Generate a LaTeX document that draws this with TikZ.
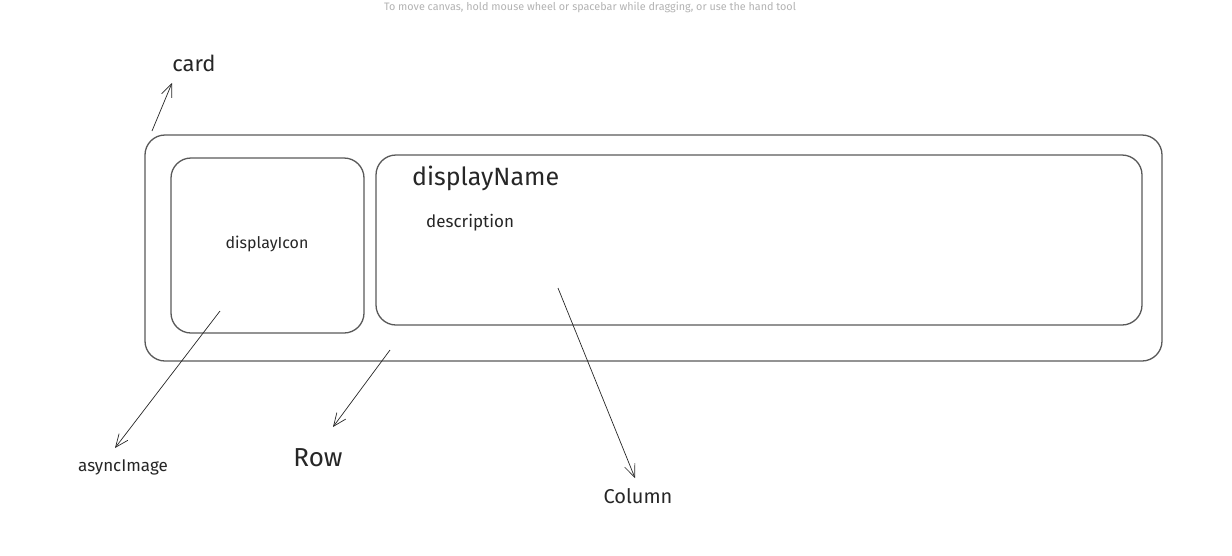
\documentclass[tikz,border=0pt]{standalone}
\usepackage{fontspec}
\setmainfont{Fira Sans}
\usetikzlibrary{arrows.meta}

\tikzset{
  box/.style={draw=black!65, line width=1.3pt, rounded corners=20pt},
  label/.style={inner sep=0pt, text=black!85},
  hint/.style={inner sep=0pt, text=black!30, font=\fontsize{10.8}{12}\selectfont},
  pointer/.style={-{Straight Barb[length=13pt,width=11pt]}, line width=0.7pt, black!85}
}

\begin{document}
\begin{tikzpicture}[x=1pt, y=-1pt]
  \useasboundingbox (0,0) rectangle (1232,555);

  % hint line at the top
  \node[hint] (hint) at (590,7) {To move canvas, hold mouse wheel or spacebar while dragging, or use the hand tool};

  % boxes
  \draw[box] (145,135) rectangle (1162,361);
  \draw[box] (171,158) rectangle (364,333);
  \draw[box] (376,155) rectangle (1142,325);

  % texts
  \node[label, font=\fontsize{16}{18}\selectfont] (icon) at (267,244) {displayIcon};
  \node[label, anchor=west, font=\fontsize{25}{28}\selectfont] (name) at (412,178) {displayName};
  \node[label, anchor=west, font=\fontsize{17}{20}\selectfont] (desc) at (426,223) {description};
  \node[label, font=\fontsize{22}{24}\selectfont] (card) at (194,63) {card};
  \node[label, font=\fontsize{17}{20}\selectfont] (async) at (123,467) {asyncImage};
  \node[label, font=\fontsize{26}{28}\selectfont] (row) at (318,458) {Row};
  \node[label, font=\fontsize{20}{22}\selectfont] (col) at (638,496) {Column};

  % arrow ends
  \coordinate (cardtail) at (152,131);
  \coordinate (cardtip) at (172,83);
  \coordinate (asynctail) at (220,311);
  \coordinate (asynctip) at (115,448);
  \coordinate (rowtail) at (390,350);
  \coordinate (rowtip) at (333,427);
  \coordinate (coltail) at (558,288);
  \coordinate (coltip) at (635,478);

  \draw[pointer] (cardtail) -- (cardtip);
  \draw[pointer] (asynctail) -- (asynctip);
  \draw[pointer] (rowtail) -- (rowtip);
  \draw[pointer] (coltail) -- (coltip);
\end{tikzpicture}
\end{document}
